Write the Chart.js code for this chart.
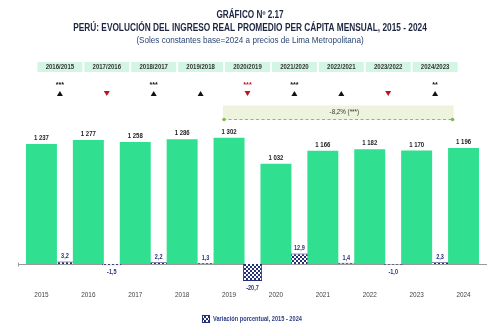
<!DOCTYPE html>
<html>
<head>
<meta charset="utf-8">
<script src="https://cdn.jsdelivr.net/npm/chart.js@4"></script>
<style>
  html, body { margin: 0; padding: 0; background: #fff; }
</style>
</head>
<body>
<canvas id="chart" width="500" height="333"></canvas>
<script>
const years = ['2015', '2016', '2017', '2018', '2019', '2020', '2021', '2022', '2023', '2024'];
const income = [1237, 1277, 1258, 1286, 1302, 1032, 1166, 1182, 1170, 1196];
const changeLabels = ['2016/2015', '2017/2016', '2018/2017', '2019/2018', '2020/2019', '2021/2020', '2022/2021', '2023/2022', '2024/2023'];
const changes = [3.2, -1.5, 2.2, 1.3, -20.7, 12.9, 1.4, -1.0, 2.3];
const signif = ['***', '', '***', '', '***', '***', '', '', '**'];
const periodChange = '-8,2% (***)';

const NAVY = '#25307c';
const GREEN = '#30df8f';
const RED = '#c0121c';
const FONT = '"Liberation Sans", Arial, sans-serif';

const canvas = document.getElementById('chart');
const ctx0 = canvas.getContext('2d');

function checker(cell) {
  const c = document.createElement('canvas');
  c.width = c.height = cell * 2;
  const g = c.getContext('2d');
  g.fillStyle = '#fff';
  g.fillRect(0, 0, cell * 2, cell * 2);
  g.fillStyle = NAVY;
  g.fillRect(0, 0, cell, cell);
  g.fillRect(cell, cell, cell, cell);
  return ctx0.createPattern(c, 'repeat');
}
const pattern = checker(2);

const fmtInt = v => String(v).replace(/\B(?=(\d{3})+(?!\d))/g, ' ');
const fmtDec = v => v.toFixed(1).replace('.', ',');

// text squeezed horizontally to mimic the narrow font of the original
function txt(ctx, s, x, y, font, color, sx, align) {
  ctx.save();
  ctx.font = font;
  ctx.fillStyle = color;
  ctx.textAlign = align || 'center';
  ctx.textBaseline = 'middle';
  ctx.translate(x, y);
  ctx.scale(sx || 0.82, 1);
  ctx.fillText(s, 0, 0);
  ctx.restore();
}

function tri(ctx, x, y, up, color) {
  ctx.fillStyle = color;
  ctx.beginPath();
  if (up) {
    ctx.moveTo(x - 3, y + 2.5); ctx.lineTo(x + 3, y + 2.5); ctx.lineTo(x, y - 2.5);
  } else {
    ctx.moveTo(x - 3, y - 2.5); ctx.lineTo(x + 3, y - 2.5); ctx.lineTo(x, y + 2.5);
  }
  ctx.closePath();
  ctx.fill();
}

const decor = {
  id: 'decor',
  beforeDatasetsDraw(chart) {
    const { ctx, chartArea, scales } = chart;
    const y0 = Math.round(scales.y.getPixelForValue(0)) + 0.5;
    ctx.save();
    ctx.strokeStyle = '#9a9a9a';
    ctx.lineWidth = 1;
    ctx.beginPath();
    ctx.moveTo(chartArea.left, y0);
    ctx.lineTo(chartArea.right, y0);
    ctx.moveTo(chartArea.left + 0.5, y0 - 2);
    ctx.lineTo(chartArea.left + 0.5, y0 + 2);
    ctx.stroke();
    ctx.restore();
  },
  afterDraw(chart) {
    const { ctx, scales } = chart;
    const x = scales.x, x2 = scales.x2;
    ctx.save();

    // titles
    txt(ctx, 'GRÁFICO Nº 2.17', 250, 15, 'bold 10px ' + FONT, '#1d2640', 0.82);
    txt(ctx, 'PERÚ: EVOLUCIÓN DEL INGRESO REAL PROMEDIO PER CÁPITA MENSUAL, 2015 - 2024', 250, 28, 'bold 10px ' + FONT, '#1d2640', 0.83);
    txt(ctx, '(Soles constantes base=2024 a precios de Lima Metropolitana)', 250, 40.5, '9px ' + FONT, '#2b4676', 0.9);

    // header row with significance marks
    changeLabels.forEach((lab, i) => {
      const cx = x2.getPixelForValue(i + 1) - 5;
      ctx.fillStyle = '#d3f5e3';
      ctx.fillRect(cx - 22.5, 62, 45, 10);
      txt(ctx, lab, cx, 67.2, 'bold 7px ' + FONT, '#333', 0.86);
      const up = changes[i] >= 0;
      const col = up ? '#111' : RED;
      if (signif[i]) txt(ctx, signif[i], cx, 84.5, 'bold 8px ' + FONT, col, 0.9);
      tri(ctx, cx, 93.5, up, col);
    });

    // period band 2019-2024
    const bl = x.getPixelForValue(4) - 6, br = x.getPixelForValue(9) - 10;
    ctx.fillStyle = '#edf3dd';
    ctx.fillRect(bl, 105.5, br - bl, 14.5);
    ctx.strokeStyle = '#86c257';
    ctx.lineWidth = 1;
    ctx.setLineDash([3, 2.5]);
    ctx.beginPath();
    ctx.moveTo(bl, 119.5);
    ctx.lineTo(br, 119.5);
    ctx.stroke();
    ctx.setLineDash([]);
    ctx.fillStyle = '#7bbd4a';
    [bl + 1, br - 1].forEach(px => { ctx.beginPath(); ctx.arc(px, 119.5, 1.8, 0, Math.PI * 2); ctx.fill(); });
    txt(ctx, periodChange, x2.getPixelForValue(7) - 2, 112, '7.5px ' + FONT, '#333', 0.83);

    // value labels
    chart.getDatasetMeta(0).data.forEach((el, i) => {
      txt(ctx, fmtInt(income[i]), el.x, el.y - 6, 'bold 7.5px ' + FONT, '#222', 0.8);
    });
    chart.getDatasetMeta(1).data.forEach((el, i) => {
      const v = chart.data.datasets[1].data[i];
      if (v === null || v === undefined) return;
      txt(ctx, fmtDec(v), el.x, v >= 0 ? el.y - 5 : el.y + 7, 'bold 6.5px ' + FONT, NAVY, 0.85);
    });

    // year labels on the category axis
    years.forEach((yr, i) => {
      txt(ctx, yr, x.getPixelForValue(i), 295, '8px ' + FONT, '#444', 0.8);
    });

    // legend
    ctx.fillStyle = pattern;
    ctx.fillRect(202, 315, 8, 8);
    ctx.strokeStyle = NAVY;
    ctx.strokeRect(202.5, 315.5, 7, 7);
    txt(ctx, 'Variación porcentual, 2015 - 2024', 213, 319.5, 'bold 6.5px ' + FONT, '#2d3d8a', 0.87, 'left');
    ctx.restore();
  }
};

new Chart(canvas, {
  type: 'bar',
  data: {
    labels: years,
    datasets: [
      {
        label: 'Ingreso real promedio per cápita mensual',
        data: income,
        backgroundColor: GREEN,
        xAxisID: 'x',
        yAxisID: 'y',
        grouped: false,
        categoryPercentage: 1,
        barPercentage: 0.66
      },
      {
        label: 'Variación porcentual, 2015 - 2024',
        data: [null, ...changes, null],
        backgroundColor: pattern,
        borderColor: NAVY,
        borderWidth: 1,
        xAxisID: 'x2',
        yAxisID: 'y2',
        grouped: false,
        categoryPercentage: 1,
        barPercentage: 0.41,
        clip: false
      }
    ]
  },
  options: {
    responsive: false,
    devicePixelRatio: 1,
    animation: false,
    layout: { padding: { left: 18, right: 13, top: 100, bottom: 47 } },
    plugins: { legend: { display: false }, tooltip: { enabled: false }, title: { display: false } },
    scales: {
      x: { display: false, offset: true },
      x2: {
        type: 'category',
        labels: ['', ...changeLabels, ''],
        offset: false,
        grid: { offset: false },
        display: false
      },
      y: { display: false, min: -227, max: 1690 },
      y2: { display: false, min: -26.8, max: 200 }
    }
  },
  plugins: [decor]
});
</script>
</body>
</html>
